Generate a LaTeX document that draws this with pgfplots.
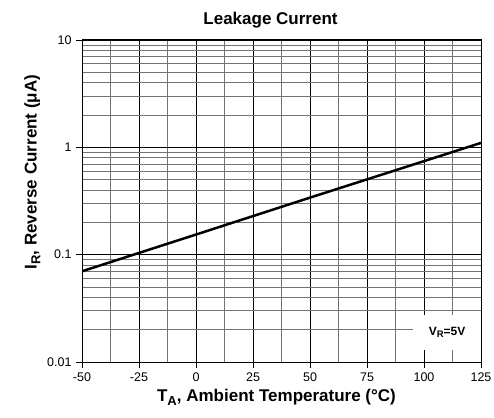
\documentclass[border=0pt]{standalone}
\usepackage{fontspec}
\setmainfont{Liberation Sans}
\usepackage{pgfplots}
\pgfplotsset{compat=1.18}
\newcommand\bigsub[1]{\raisebox{-0.4ex}{\fontsize{13}{14}\selectfont\bfseries #1}}
\newcommand\smallsub[1]{\raisebox{-0.4ex}{\fontsize{9.5}{10}\selectfont\bfseries #1}}
\begin{document}
\begin{tikzpicture}
\useasboundingbox (-82pt,-55pt) rectangle (412pt,362pt);
\begin{axis}[
  at={(0,0)}, anchor=south west,
  scale only axis, width=399pt, height=322pt,
  ymode=log, xmin=-50, xmax=125, ymin=0.01, ymax=10,
  xtick={-50,-25,0,25,50,75,100,125},
  minor x tick num=1,
  ytick={0.01,0.1,1,10},
  yticklabels={0.01,0.1,1,10},
  /pgf/number format/assume math mode=true,
  tick label style={font=\fontsize{12.5}{13}\selectfont},
  xticklabel style={yshift=-1pt},
  yticklabel style={xshift=-1pt},
  tick align=outside, major tick length=6pt, minor tick length=0pt,
  xtick pos=bottom, ytick pos=left,
  grid=both,
  major grid style={black, line width=0.8pt},
  minor grid style={black!55, line width=0.8pt},
  axis line style={black, line width=1pt},
  tick style={black, line width=0.8pt},
  title={\bfseries Leakage Current},
  title style={font=\fontsize{17}{19}\selectfont\bfseries, yshift=2pt, xshift=-11pt},
  xlabel={\bfseries T\bigsub{A}, Ambient Temperature (°C)},
  ylabel={\bfseries I\bigsub{R}, Reverse Current (μA)},
  xlabel style={font=\fontsize{17}{19}\selectfont, yshift=-1pt, xshift=-5pt},
  ylabel style={font=\fontsize{17}{19}\selectfont, at={(ticklabel cs:0.59)}, yshift=0pt},
]
\addplot[black, line width=2.5pt] coordinates {(-50,0.07) (0,0.154) (50,0.34) (125,1.1)};
\node[fill=white, inner sep=0pt, minimum width=68pt, minimum height=35pt, font=\fontsize{12}{13}\selectfont\bfseries] at (axis cs:110.1,0.0188) {V\smallsub{R}=5V};
\end{axis}
\end{tikzpicture}
\end{document}
